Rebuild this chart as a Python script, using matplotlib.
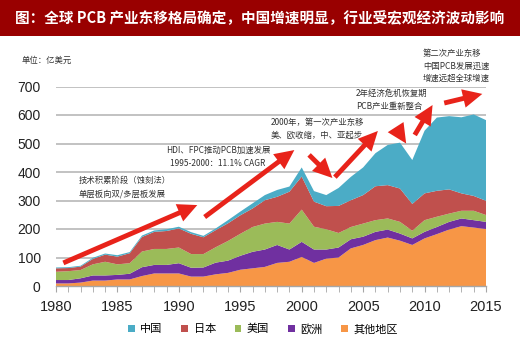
import matplotlib
matplotlib.use("Agg")
import matplotlib.pyplot as plt
from matplotlib.patches import Patch, Rectangle
import numpy as np

years = list(range(1980, 2016))
other = [9, 9, 12, 19, 19, 23, 23, 35, 44, 44, 44, 33, 33, 41, 46, 57, 62, 67, 81, 85,
         102, 81, 96, 100, 132, 144, 161, 170, 159, 144, 167, 182, 198, 210, 205, 200]
europe = [12, 12, 15, 18, 18, 16, 20, 31, 30, 30, 36, 31, 32, 41, 43, 49, 58, 61, 63, 43,
          53, 47, 32, 35, 32, 29, 29, 28, 25, 23, 23, 25, 27, 27, 26, 25]
usa = [29, 31, 29, 39, 48, 37, 37, 55, 56, 56, 55, 48, 47, 54, 69, 77, 87, 91, 81, 91,
       113, 80, 71, 51, 43, 46, 41, 39, 41, 27, 41, 36, 29, 27, 33, 24]
japan = [12, 11, 12, 19, 25, 27, 35, 51, 60, 63, 67, 71, 59, 60, 62, 65, 65, 82, 88, 112,
         116, 88, 81, 95, 94, 100, 119, 117, 117, 94, 94, 91, 85, 61, 52, 50]
china = [3, 3, 3, 4, 4, 5, 4, 5, 5, 6, 6, 6, 5, 6, 11, 13, 18, 18, 24, 18,
         32, 37, 39, 63, 82, 97, 116, 141, 161, 154, 220, 257, 257, 267, 286, 283]

series_names = ["中国", "日本", "美国", "欧洲", "其他地区"]
series_colors = ["#4BACC6", "#C0504D", "#9BBB59", "#7030A0", "#F79646"]

title = "图：全球 PCB 产业东移格局确定，中国增速明显，行业受宏观经济波动影响"
unit_label = "单位：亿美元"

CJK = ["Noto Sans CJK SC", "DejaVu Sans"]
W, H = 520, 356

fig = plt.figure(figsize=(W / 100, H / 100), dpi=100)

def fx(px):
    return px / W

def fy(py):
    return 1 - py / H

# title bar
fig.patches.append(Rectangle((0, fy(36)), 1, 36 / H, transform=fig.transFigure,
                             facecolor="#990000", edgecolor="none", zorder=0))
fig.text(fx(260), fy(18), title, color="white", fontsize=10.5, fontweight="bold",
         family=CJK, ha="center", va="center")

ax = fig.add_axes([fx(56), fy(286), (486 - 56) / W, (286 - 86.5) / H])
ax.stackplot(years, other, europe, usa, japan, china,
             colors=series_colors[::-1], linewidth=0, zorder=2)
ax.set_xlim(1980, 2015)
ax.set_ylim(0, 700)
ax.set_yticks(range(0, 701, 100))
ax.set_xticks(range(1980, 2016, 5))
ax.set_xticks(range(1980, 2016, 1), minor=True)
ax.set_axisbelow(True)
ax.yaxis.grid(True, color="#BDBDBD", lw=1.3)
for s in ["top", "right", "left"]:
    ax.spines[s].set_visible(False)
ax.spines["bottom"].set_color("#A6A6A6")
ax.spines["bottom"].set_linewidth(1.0)
ax.spines["bottom"].set_zorder(3)
ax.tick_params(axis="y", length=0, pad=11, labelsize=10, labelcolor="#222222")
ax.tick_params(axis="x", which="both", length=4, color="#A6A6A6", direction="out")
ax.tick_params(axis="x", which="major", pad=6, labelsize=10.5, labelcolor="#222222")
for lab in ax.get_xticklabels() + ax.get_yticklabels():
    lab.set_family("Liberation Sans")

# arrows (tail, head) in data coords
red = "#E8231A"
arrows = [
    ((1980.6, 81), (1991.5, 284)),
    ((1992.1, 242), (1999.4, 477)),
    ((2000.6, 460), (2002.5, 379)),
    ((2002.7, 382), (2006.2, 544)),
    ((2007.8, 547), (2008.5, 500)),
    ((2009.2, 530), (2010.65, 635)),
    ((2011.6, 642), (2014.7, 674)),
]
for tail, head in arrows:
    ax.annotate("", xy=head, xytext=tail, annotation_clip=False,
                arrowprops=dict(arrowstyle="simple,head_length=1.4,head_width=1.35,tail_width=0.35",
                                color=red, lw=0, mutation_scale=10, shrinkA=0, shrinkB=0),
                zorder=5)

ann_kw = dict(fontsize=6, family=CJK, color="#333333", va="center", linespacing=1.6)
fig.text(fx(22), fy(60), unit_label, ha="left", **ann_kw)
fig.text(fx(79), fy(187), "技术积累阶段（蚀刻法）\n单层板向双/多层板发展", ha="left", **ann_kw)
fig.text(fx(218), fy(157), "HDI、FPC推动PCB加速发展\n1995-2000：11.1% CAGR", ha="center",
         multialignment="center", **ann_kw)
fig.text(fx(271), fy(129), "2000年，第一次产业东移\n美、欧收缩，中、亚起步", ha="left", **ann_kw)
fig.text(fx(356), fy(99.5), "2年经济危机恢复期\nPCB产业重新整合", ha="left", **ann_kw)
fig.text(fx(423), fy(66), "第二次产业东移\n中国PCB发展迅速\n增速远超全球增速", ha="left",
         **{**ann_kw, "linespacing": 1.45})

handles = [Patch(facecolor=c, edgecolor="none") for c in series_colors]
fig.legend(handles, series_names, loc="center", bbox_to_anchor=(fx(263), fy(329)),
           ncol=5, frameon=False, prop={"family": CJK, "size": 8},
           handlelength=0.6, handleheight=0.6, handletextpad=0.5, columnspacing=1.7)

fig.savefig("out.png", dpi=100, facecolor="white")
